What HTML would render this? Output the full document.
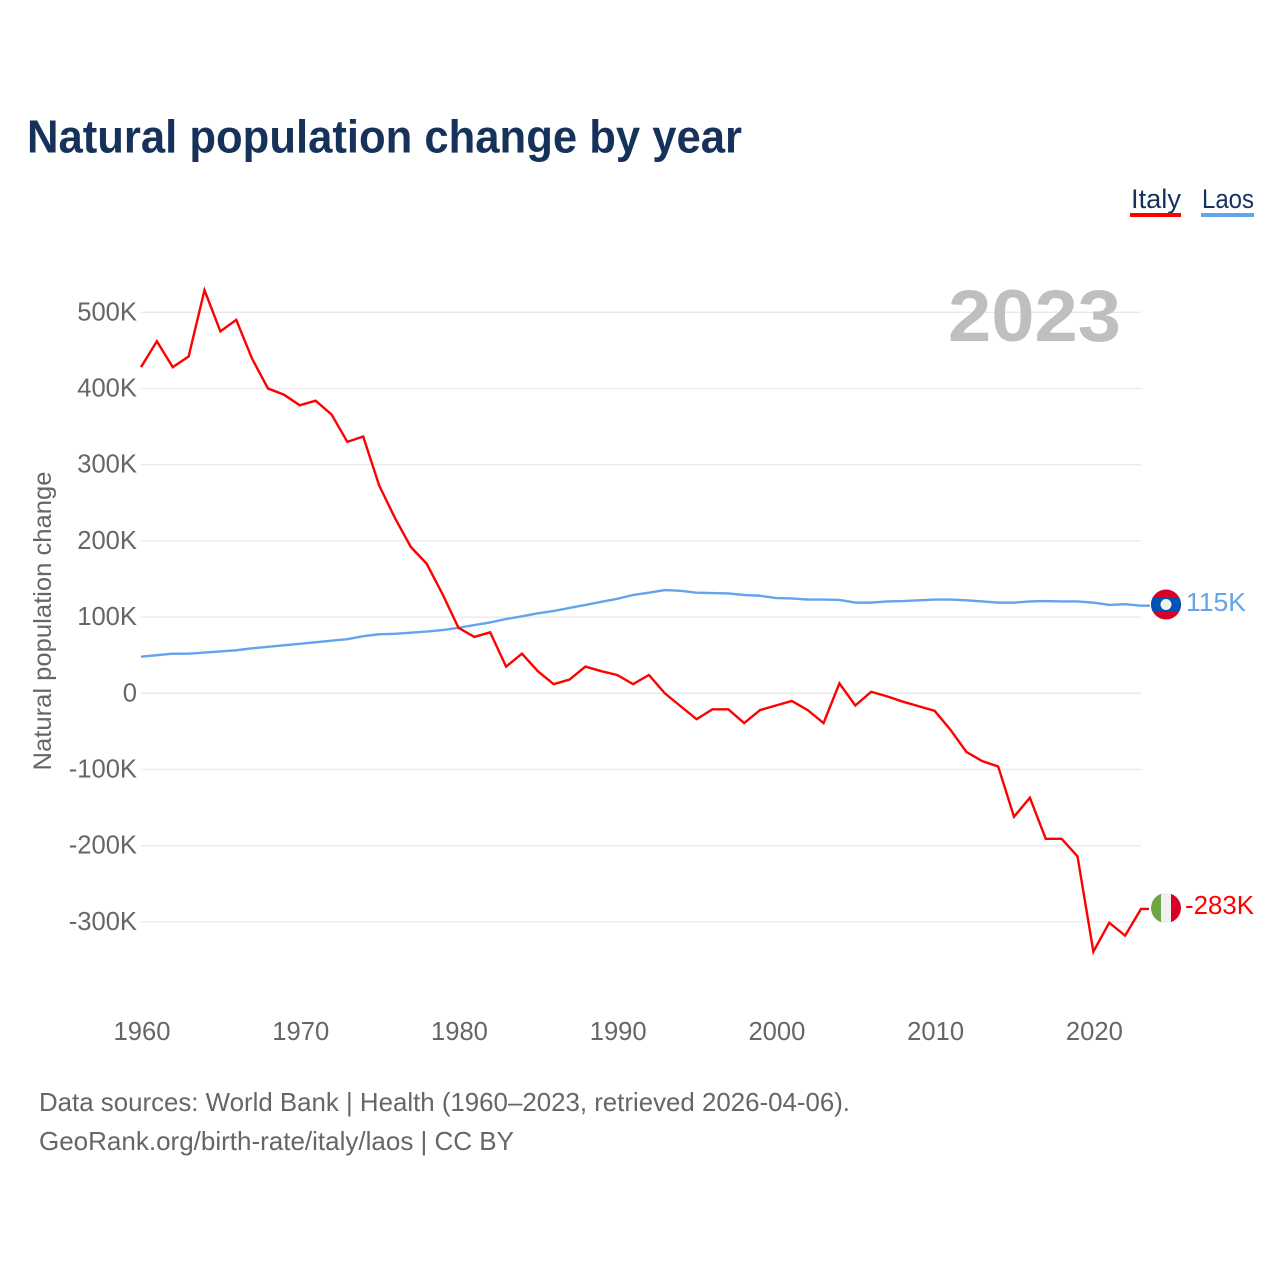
<!DOCTYPE html>
<html lang="en">
<head>
<meta charset="utf-8">
<title>Natural population change by year</title>
<style>
html,body{margin:0;padding:0;background:#fff;}
svg{display:block;font-family:"Liberation Sans",sans-serif;}
</style>
</head>
<body>
<svg id="chart" width="1280" height="1280" viewBox="0 0 1280 1280" xmlns="http://www.w3.org/2000/svg">
  <defs>
    <clipPath id="clip-laos"><circle cx="1166" cy="604.5" r="15"/></clipPath>
    <clipPath id="clip-italy"><circle cx="1166" cy="908" r="15"/></clipPath>
  </defs>
  <text x="27" y="152.5" font-size="46" font-weight="700" fill="#17325a" textLength="715" lengthAdjust="spacingAndGlyphs">Natural population change by year</text>

  <g>
    <g>
      <text x="1131" y="208" font-size="27" fill="#17325a" textLength="50" lengthAdjust="spacingAndGlyphs">Italy</text>
      <rect x="1130" y="213" width="51" height="4" fill="#ff0000"/>
    </g>
    <g>
      <text x="1202" y="208" font-size="27" fill="#17325a" textLength="52" lengthAdjust="spacingAndGlyphs">Laos</text>
      <rect x="1201" y="213" width="53" height="4" fill="#63a4ec"/>
    </g>
  </g>

  <g id="grid"></g>
  <g id="yticks"></g>
  <g id="xticks"></g>

  <text x="948" y="341" font-size="73" font-weight="700" fill="#bfbfbf" textLength="173" lengthAdjust="spacingAndGlyphs">2023</text>

  <text transform="translate(51 621) rotate(-90)" text-anchor="middle" font-size="25" fill="#666666" textLength="299" lengthAdjust="spacingAndGlyphs">Natural population change</text>

  <g id="series"></g>

  <g clip-path="url(#clip-laos)">
    <rect x="1150" y="589" width="32" height="32" fill="#d80027"/>
    <rect x="1150" y="597" width="32" height="15" fill="#0052b4"/>
    <circle cx="1166" cy="604.5" r="5.5" fill="#f0f0f0"/>
  </g>
  <text x="1186" y="611" font-size="25.6" fill="#63a4ec" textLength="60" lengthAdjust="spacingAndGlyphs">115K</text>

  <g clip-path="url(#clip-italy)">
    <rect x="1150" y="892" width="12" height="32" fill="#6da544"/>
    <rect x="1161" y="892" width="11" height="32" fill="#f0f0f0"/>
    <rect x="1171" y="892" width="12" height="32" fill="#d80027"/>
  </g>
  <text x="1185" y="914" font-size="25.6" fill="#ff0000" textLength="69" lengthAdjust="spacingAndGlyphs">-283K</text>

  <text x="39" y="1111" font-size="25.6" fill="#666666" textLength="811" lengthAdjust="spacingAndGlyphs">Data sources: World Bank | Health (1960–2023, retrieved 2026-04-06).</text>
  <text x="39" y="1150" font-size="25.6" fill="#666666" textLength="475" lengthAdjust="spacingAndGlyphs">GeoRank.org/birth-rate/italy/laos | CC BY</text>
</svg>

<script>
const startYear = 1960;
const yTickValues = [500, 400, 300, 200, 100, 0, -100, -200, -300];
const yTickLabels = ['500K', '400K', '300K', '200K', '100K', '0', '-100K', '-200K', '-300K'];
const xTickYears = [1960, 1970, 1980, 1990, 2000, 2010, 2020];
const xTickLabels = ['1960', '1970', '1980', '1990', '2000', '2010', '2020'];
const italyValues = [428, 462, 428, 442, 529, 475, 490, 439, 400, 392, 378, 384, 366, 330, 337, 273, 230, 192, 170, 130, 86, 74, 80, 35, 52, 29, 12, 18, 35, 29, 24, 12, 24, 0, -17, -34, -21, -21, -39, -22, -16, -10, -22, -39, 13, -16, 2, -4, -11, -17, -23, -48, -77, -89, -96, -162, -137, -191, -191, -214, -339, -301, -318, -283];
const laosValues = [48, 50, 52, 52, 53.5, 55, 56.5, 59, 61, 63, 65, 67, 69, 71, 75, 77.5, 78, 79.5, 81, 83, 86, 89.5, 93, 97.5, 101, 105, 108, 112, 116, 120, 124, 129, 132, 135.5, 134.5, 132, 131.5, 131, 129, 128, 125, 124.5, 123, 123, 122.5, 119, 119, 120.5, 121, 122, 123, 123, 122, 120.5, 119, 119, 120.5, 121, 120.5, 120.5, 119, 116, 117, 115];

const NS = 'http://www.w3.org/2000/svg';
const xScale = function (year) { return 141 + (year - 1960) * (1000 / 63); };
const yScale = function (v) { return 693.3 - v * 0.762; };

function seriesPath(values, endX) {
  let d = '';
  values.forEach(function (v, i) {
    d += (i ? 'L' : 'M') + xScale(startYear + i).toFixed(2) + ' ' + yScale(v).toFixed(2);
  });
  return d + 'H' + endX;
}

const grid = document.getElementById('grid');
const yticks = document.getElementById('yticks');
const xticks = document.getElementById('xticks');
const series = document.getElementById('series');

yTickValues.forEach(function (v, i) {
  const line = document.createElementNS(NS, 'line');
  
  
  line.setAttribute('x1', 141);
  line.setAttribute('x2', 1141);
  line.setAttribute('y1', yScale(v));
  line.setAttribute('y2', yScale(v));
  line.setAttribute('stroke', '#e9e9e9');
  line.setAttribute('stroke-width', 1.3);
  grid.appendChild(line);

  const label = document.createElementNS(NS, 'text');
  
  
  label.setAttribute('x', 137);
  label.setAttribute('y', yScale(v) + 8);
  label.setAttribute('text-anchor', 'end');
  label.setAttribute('font-size', 25.6);
  label.setAttribute('fill', '#666666');
  label.textContent = yTickLabels[i];
  yticks.appendChild(label);
});

xTickYears.forEach(function (year, i) {
  const label = document.createElementNS(NS, 'text');
  
  
  label.setAttribute('x', xScale(year) + 1);
  label.setAttribute('y', 1040);
  label.setAttribute('text-anchor', 'middle');
  label.setAttribute('font-size', 25.6);
  label.setAttribute('fill', '#666666');
  label.textContent = xTickLabels[i];
  xticks.appendChild(label);
});

const laosLine = document.createElementNS(NS, 'path');


laosLine.setAttribute('d', seriesPath(laosValues, 1150));
laosLine.setAttribute('fill', 'none');
laosLine.setAttribute('stroke', '#63a4ec');
laosLine.setAttribute('stroke-width', 2.4);
laosLine.setAttribute('stroke-linejoin', 'round');
series.appendChild(laosLine);

const italyLine = document.createElementNS(NS, 'path');


italyLine.setAttribute('d', seriesPath(italyValues, 1149));
italyLine.setAttribute('fill', 'none');
italyLine.setAttribute('stroke', '#ff0000');
italyLine.setAttribute('stroke-width', 2.4);
italyLine.setAttribute('stroke-linejoin', 'miter');
series.appendChild(italyLine);
</script>
</body>
</html>
